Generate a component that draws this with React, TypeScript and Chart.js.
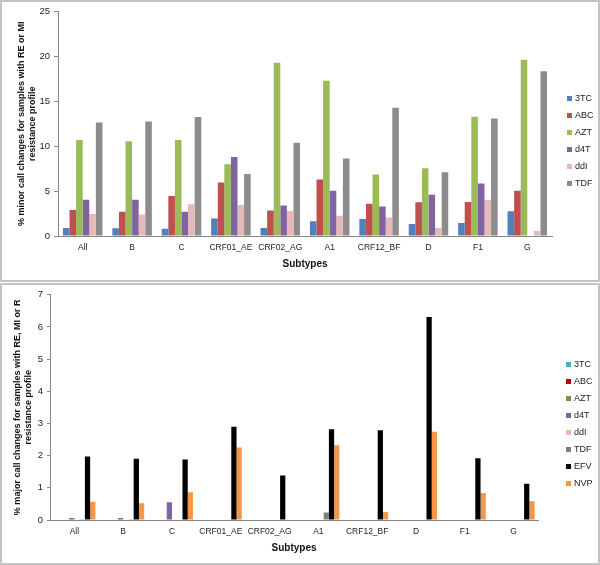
import React, { useEffect, useRef } from 'react';
import { Chart, registerables } from 'chart.js';
Chart.register(...registerables);

const FONT = "'Liberation Sans Narrow', 'Liberation Sans', Arial, sans-serif";

const categories = ['All', 'B', 'C', 'CRF01_AE', 'CRF02_AG', 'A1', 'CRF12_BF', 'D', 'F1', 'G'];

// Top chart: minor call changes
const minorNames = ['3TC', 'ABC', 'AZT', 'd4T', 'ddI', 'TDF'];
const minorColors = ['#4F81BD', '#C0504D', '#9BBB59', '#8064A2', '#E6B9B8', '#8C8C8C'];
const minor3TC = [0.9, 0.85, 0.8, 1.95, 0.9, 1.65, 1.9, 1.35, 1.45, 2.75];
const minorABC = [2.9, 2.7, 4.45, 5.95, 2.85, 6.3, 3.6, 3.75, 3.8, 5.05];
const minorAZT = [10.7, 10.55, 10.7, 8.0, 19.3, 17.3, 6.85, 7.55, 13.3, 19.65];
const minorD4T = [4.05, 4.05, 2.7, 8.8, 3.4, 5.05, 3.3, 4.6, 5.85, 0];
const minorDDI = [2.45, 2.4, 3.55, 3.45, 2.8, 2.25, 2.05, 0.9, 4.0, 0.55];
const minorTDF = [12.65, 12.75, 13.25, 6.9, 10.4, 8.65, 14.3, 7.1, 13.1, 18.35];
const minorValues = [minor3TC, minorABC, minorAZT, minorD4T, minorDDI, minorTDF];

// Bottom chart: major call changes
const majorNames = ['3TC', 'ABC', 'AZT', 'd4T', 'ddI', 'TDF', 'EFV', 'NVP'];
const majorColors = ['#4BACC6', '#C00000', '#77933C', '#8064A2', '#E6B9B8', '#7F7F7F', '#000000', '#F79646'];
const major3TC = [0, 0, 0, 0, 0, 0, 0, 0, 0, 0];
const majorABC = [0, 0, 0, 0, 0, 0, 0, 0, 0, 0];
const majorAZT = [0, 0, 0, 0, 0, 0, 0, 0, 0, 0];
const majorD4T = [0.06, 0.06, 0.55, 0, 0, 0, 0, 0, 0, 0];
const majorDDI = [0, 0, 0, 0, 0, 0, 0, 0, 0, 0];
const majorTDF = [0.02, 0.02, 0, 0, 0, 0.23, 0, 0, 0, 0];
const majorEFV = [1.97, 1.9, 1.88, 2.9, 1.38, 2.82, 2.79, 6.31, 1.92, 1.13];
const majorNVP = [0.57, 0.52, 0.86, 2.25, 0, 2.32, 0.25, 2.74, 0.84, 0.58];
const majorValues = [major3TC, majorABC, majorAZT, majorD4T, majorDDI, majorTDF, majorEFV, majorNVP];

const minorTitle = ['% minor call changes for samples with RE or MI', 'resistance profile'];
const majorTitle = ['% major call changes for samples with RE, MI or R', 'resistance profile'];
const yMinorTicks = { max: 25, step: 5 };
const yMajorTicks = { max: 7, step: 1 };

interface Cfg {
  names: string[];
  colors: string[];
  values: number[][];
  title: string[];
  max: number;
  step: number;
  catPct: number;
  padTop: number;
  padRight: number;
  yWidth: number;
  xHeight: number;
  yTitlePad: number;
  xTitlePad: number;
  yTickPad: number;
  yTickLen: number;
}

function build(canvas: HTMLCanvasElement, c: Cfg) {
  return new Chart(canvas, {
    type: 'bar',
    data: {
      labels: categories,
      datasets: c.names.map((n, i) => ({
        label: n,
        data: c.values[i],
        backgroundColor: c.colors[i],
        borderWidth: 0,
        categoryPercentage: c.catPct,
        barPercentage: 1,
      })),
    },
    options: {
      animation: false,
      responsive: false,
      maintainAspectRatio: false,
      layout: { padding: { top: c.padTop, right: c.padRight, bottom: 0, left: 0 } },
      plugins: { legend: { display: false }, tooltip: { enabled: false } },
      scales: {
        x: {
          grid: { display: true, drawOnChartArea: false, drawTicks: false },
          border: { display: true, color: '#868686', width: 1 },
          ticks: { autoSkip: false, maxRotation: 0, minRotation: 0, padding: 7, color: '#222', font: { family: FONT, size: 8.5 } },
          title: { display: true, text: 'Subtypes', color: '#111', font: { family: FONT, size: 10, weight: 'bold' }, padding: { top: 0, bottom: c.xTitlePad } },
          afterFit: (s: any) => { s.height = c.xHeight; },
        },
        y: {
          min: 0,
          max: c.max,
          ticks: { stepSize: c.step, padding: c.yTickPad, color: '#222', font: { family: FONT, size: 9.5 } },
          grid: { display: true, drawOnChartArea: false, drawTicks: true, tickLength: c.yTickLen, color: '#868686' },
          border: { display: true, color: '#868686', width: 1 },
          title: { display: true, text: c.title, color: '#111', font: { family: FONT, size: 9, weight: 'bold' }, padding: { top: c.yTitlePad, bottom: 0 } },
          afterFit: (s: any) => { s.width = c.yWidth; },
        },
      },
    } as any,
  });
}

function Legend({ names, colors, left, top }: { names: string[]; colors: string[]; left: number; top: number }) {
  return (
    <>
      {names.map((n, i) => (
        <div
          key={n}
          style={{
            position: 'absolute',
            left,
            top: top + i * 17 - 6,
            height: 12,
            display: 'flex',
            alignItems: 'center',
            fontFamily: FONT,
            fontSize: 9,
            color: '#222',
            whiteSpace: 'nowrap',
          }}
        >
          <span style={{ display: 'inline-block', width: 5, height: 5, background: colors[i], marginRight: 3 }} />
          <span>{n}</span>
        </div>
      ))}
    </>
  );
}

export default function App() {
  const topRef = useRef<HTMLCanvasElement>(null);
  const botRef = useRef<HTMLCanvasElement>(null);

  useEffect(() => {
    document.body.style.margin = '0';
    const a = build(topRef.current!, {
      names: minorNames, colors: minorColors, values: minorValues, title: minorTitle,
      max: yMinorTicks.max, step: yMinorTicks.step, catPct: 0.8,
      padTop: 9, padRight: 46, yWidth: 56, xHeight: 44, yTitlePad: 14.1, xTitlePad: 10, yTickPad: 4, yTickLen: 4,
    });
    const b = build(botRef.current!, {
      names: majorNames, colors: majorColors, values: majorValues, title: majorTitle,
      max: yMajorTicks.max, step: yMajorTicks.step, catPct: 0.86,
      padTop: 7, padRight: 60, yWidth: 48, xHeight: 43, yTitlePad: 10.6, xTitlePad: 9, yTickPad: 4, yTickLen: 3,
    });
    return () => { a.destroy(); b.destroy(); };
  }, []);

  const panel: React.CSSProperties = {
    position: 'absolute', left: 0, width: 600, height: 282, border: '2px solid #c4c4c4', boxSizing: 'border-box', background: '#fff',
  };

  return (
    <div style={{ position: 'absolute', left: 0, top: 0, width: 600, height: 565, background: '#fff' }}>
      <div style={{ ...panel, top: 0 }}>
        <canvas ref={topRef} width={596} height={278} style={{ position: 'absolute', left: 0, top: 0 }} />
        <Legend names={minorNames} colors={minorColors} left={565} top={96} />
      </div>
      <div style={{ ...panel, top: 283 }}>
        <canvas ref={botRef} width={596} height={278} style={{ position: 'absolute', left: 0, top: 0 }} />
        <Legend names={majorNames} colors={majorColors} left={564} top={79} />
      </div>
    </div>
  );
}
